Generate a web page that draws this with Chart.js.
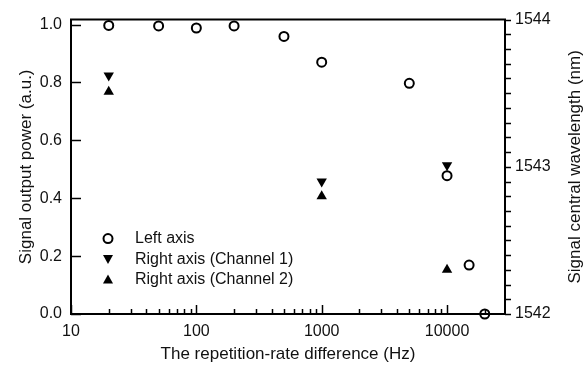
<!DOCTYPE html>
<html>
<head>
<meta charset="utf-8">
<script src="https://cdn.jsdelivr.net/npm/chart.js@4.4.0/dist/chart.umd.min.js"></script>
<style>
  html, body { margin: 0; padding: 0; background: #fff; }
  #wrap { width: 588px; height: 365px; }
</style>
</head>
<body>
<div id="wrap"><canvas id="chart"></canvas></div>
<script>
// values
const powerX = [20, 50, 100, 200, 500, 1000, 5000, 10000, 15000, 20000];
const powerY = [0.997, 0.995, 0.988, 0.995, 0.959, 0.870, 0.797, 0.478, 0.169, 0.0];
const ch1X = [20, 1000, 10000];
const ch1Wl = [1543.62, 1542.90, 1543.01];
const ch2X = [20, 1000, 10000];
const ch2Wl = [1543.51, 1542.80, 1542.30];
const legendLabels = ['Left axis', 'Right axis (Channel 1)', 'Right axis (Channel 2)'];
const xTitle = 'The repetition-rate difference (Hz)';
const yTitle = 'Signal output power (a.u.)';
const y2Title = 'Signal central wavelength (nm)';

const FONT = '"Liberation Sans", Arial, sans-serif';
Chart.defaults.font.family = FONT;
Chart.defaults.color = '#111';

function toPoints(xs, ys) {
    return xs.map((x, i) => ({ x: x, y: ys[i] }));
}

function isDecade(v) {
    const l = Math.log10(v);
    return Math.abs(l - Math.round(l)) < 1e-9;
}

// frame top, tick marks, legend and right title
const extras = {
    id: 'extras',
    afterDraw(chart) {
        const { ctx, chartArea: a, scales } = chart;
        ctx.save();
        ctx.strokeStyle = '#000';
        ctx.fillStyle = '#111';

        ctx.lineWidth = 2;
        ctx.beginPath();
        ctx.moveTo(a.left - 1, a.top);
        ctx.lineTo(a.right + 1, a.top);
        ctx.stroke();

        // bottom axis ticks (inward)
        ctx.lineWidth = 1.5;
        for (let d = 10; d <= 10000; d *= 10) {
            for (let m = 1; m <= 9; m++) {
                const v = d * m;
                if (v > scales.x.max) break;
                const px = Math.round(scales.x.getPixelForValue(v)) + 0.5;
                const len = m === 1 ? 9 : 5;
                ctx.beginPath();
                ctx.moveTo(px, a.bottom);
                ctx.lineTo(px, a.bottom - len);
                ctx.stroke();
            }
        }

        // left axis ticks (inward)
        scales.y.ticks.forEach(t => {
            const py = Math.round(scales.y.getPixelForValue(t.value)) + 0.5;
            ctx.beginPath();
            ctx.moveTo(a.left, py);
            ctx.lineTo(a.left + 10, py);
            ctx.stroke();
        });

        // right axis ticks (outward, every 0.1 nm)
        scales.y2.ticks.forEach(t => {
            const py = Math.round(scales.y2.getPixelForValue(t.value)) + 0.5;
            ctx.beginPath();
            ctx.moveTo(a.right, py);
            ctx.lineTo(a.right + 6, py);
            ctx.stroke();
        });

        // legend
        const lx = a.left + 37;
        const rows = [a.top + 219, a.top + 239.5, a.top + 260];
        ctx.font = '16px ' + FONT;
        ctx.textAlign = 'left';
        ctx.textBaseline = 'middle';
        rows.forEach((ly, i) => {
            ctx.fillStyle = '#000';
            if (i === 0) {
                ctx.lineWidth = 2;
                ctx.beginPath();
                ctx.arc(lx, ly, 4.5, 0, Math.PI * 2);
                ctx.stroke();
            } else if (i === 1) {
                ctx.beginPath();
                ctx.moveTo(lx - 5, ly - 4);
                ctx.lineTo(lx + 5, ly - 4);
                ctx.lineTo(lx, ly + 5);
                ctx.closePath();
                ctx.fill();
            } else {
                ctx.beginPath();
                ctx.moveTo(lx - 5, ly + 4);
                ctx.lineTo(lx + 5, ly + 4);
                ctx.lineTo(lx, ly - 5);
                ctx.closePath();
                ctx.fill();
            }
            ctx.fillStyle = '#111';
            ctx.fillText(legendLabels[i], lx + 27, ly);
        });

        // right axis title, reading bottom to top
        ctx.translate(575, (a.top + a.bottom) / 2);
        ctx.rotate(-Math.PI / 2);
        ctx.font = '17px ' + FONT;
        ctx.textAlign = 'center';
        ctx.fillText(y2Title, 0, 0);
        ctx.restore();
    }
};

const chart = new Chart(document.getElementById('chart'), {
    type: 'scatter',
    data: {
        datasets: [
            {
                label: legendLabels[0],
                data: toPoints(powerX, powerY),
                yAxisID: 'y',
                pointStyle: 'circle',
                pointRadius: 4.5,
                pointBorderWidth: 2,
                borderColor: '#000',
                backgroundColor: 'rgba(0,0,0,0)',
                clip: false
            },
            {
                label: legendLabels[1],
                data: toPoints(ch1X, ch1Wl),
                yAxisID: 'y2',
                pointStyle: 'triangle',
                rotation: 180,
                pointRadius: 6,
                pointBorderWidth: 0,
                borderColor: '#000',
                backgroundColor: '#000',
                clip: false
            },
            {
                label: legendLabels[2],
                data: toPoints(ch2X, ch2Wl),
                yAxisID: 'y2',
                pointStyle: 'triangle',
                pointRadius: 6,
                pointBorderWidth: 0,
                borderColor: '#000',
                backgroundColor: '#000',
                clip: false
            }
        ]
    },
    options: {
        responsive: true,
        maintainAspectRatio: false,
        animation: false,
        layout: { padding: { top: 14, left: 0, right: 0, bottom: 0 } },
        plugins: {
            legend: { display: false },
            tooltip: { enabled: false }
        },
        scales: {
            x: {
                type: 'logarithmic',
                position: 'bottom',
                min: 10,
                max: 29000,
                grid: { display: false, drawTicks: false },
                border: { display: true, color: '#000', width: 2 },
                ticks: {
                    autoSkip: false,
                    maxRotation: 0,
                    padding: 8,
                    font: { size: 16 },
                    callback: function(value) {
                        return isDecade(value) ? String(value) : '';
                    }
                },
                title: {
                    display: true,
                    text: xTitle,
                    font: { size: 17 },
                    padding: { top: 2, bottom: 0 }
                },
                afterFit: function(scale) { scale.height = 51; }
            },
            y: {
                type: 'linear',
                position: 'left',
                min: 0,
                max: 1.017,
                grid: { display: false, drawTicks: false },
                border: { display: true, color: '#000', width: 2 },
                ticks: {
                    stepSize: 0.2,
                    includeBounds: false,
                    padding: 9,
                    font: { size: 16 },
                    callback: function(value) { return value.toFixed(1); }
                },
                title: {
                    display: true,
                    text: yTitle,
                    font: { size: 17 },
                    padding: { top: 16, bottom: 0 }
                },
                afterFit: function(scale) { scale.width = 71; }
            },
            y2: {
                type: 'linear',
                position: 'right',
                min: 1542,
                max: 1544,
                grid: { display: false, drawTicks: false },
                border: { display: true, color: '#000', width: 2 },
                ticks: {
                    stepSize: 0.1,
                    autoSkip: false,
                    padding: 10,
                    font: { size: 16 },
                    callback: function(value) {
                        return Math.abs(value - Math.round(value)) < 1e-6 ? String(Math.round(value)) : '';
                    }
                },
                afterFit: function(scale) { scale.width = 83; }
            }
        }
    },
    plugins: [extras]
});
</script>
</body>
</html>
